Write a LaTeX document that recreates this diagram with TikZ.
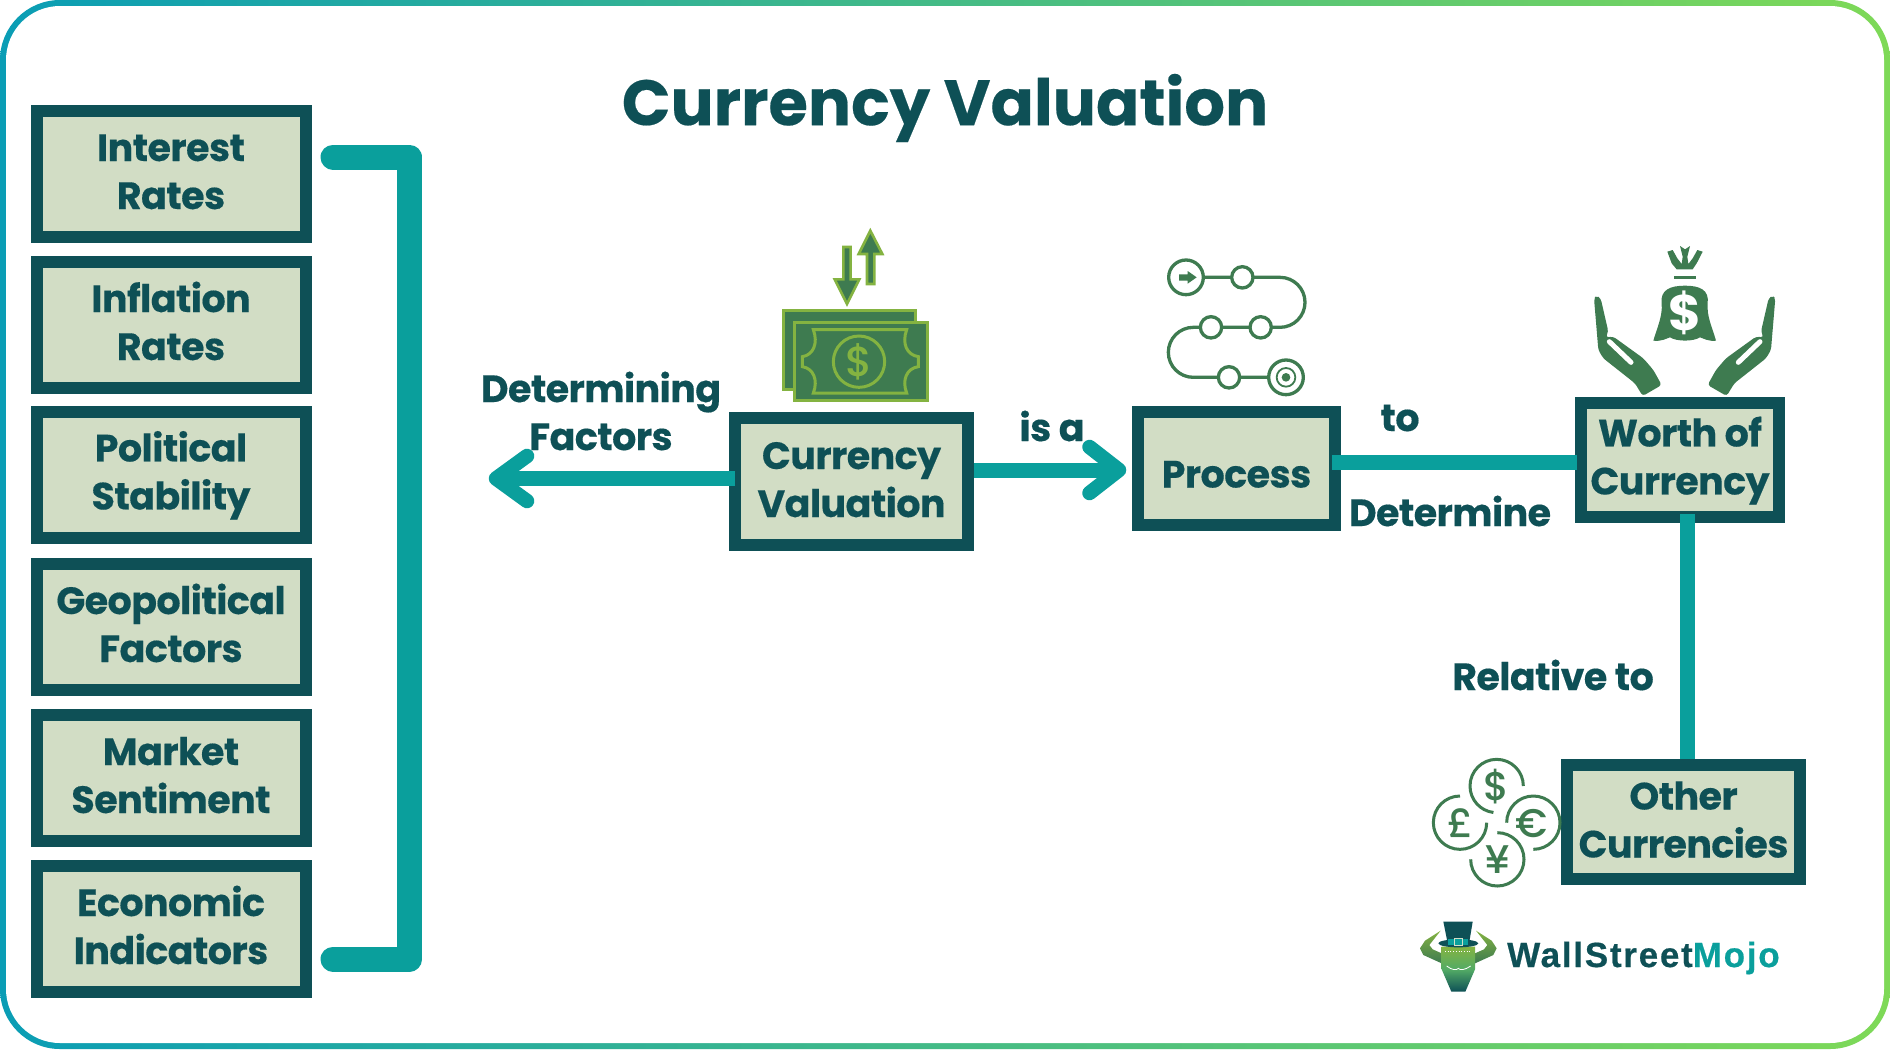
\documentclass[tikz,border=0pt]{standalone}
\usepackage{fontspec}
\usetikzlibrary{arrows.meta}
\newfontfamily\pop{Poppins}[BoldFont={Poppins Bold}]
\newfontfamily\popm{Poppins Medium}
\newfontfamily\poplab{Poppins Bold}[LetterSpace=-1.5,FakeBold=0.35]
\newfontfamily\poptitle{Poppins Bold}[FakeBold=0.3]
\newfontfamily\logofont{Liberation Sans Bold}[LetterSpace=5.0,FakeBold=0.5]
\definecolor{dark}{HTML}{0E5056}
\definecolor{boxfill}{HTML}{D2DDC5}
\definecolor{teal}{HTML}{0A9F9C}
\definecolor{icon}{HTML}{3E7B50}
\definecolor{lime}{HTML}{84B341}
\definecolor{gA}{HTML}{0A9DB5}
\definecolor{gB}{HTML}{22AE8C}
\definecolor{gC}{HTML}{7ED957}
\newcommand{\st}{\rule{0pt}{31pt}\rule[-8pt]{0pt}{8pt}}
\tikzset{
  box/.style={draw=dark,fill=boxfill,line width=12pt,rectangle,inner sep=0pt,align=center,
     font=\poplab\fontsize{38}{48}\selectfont,text=dark},
  lab/.style={inner sep=0pt,align=center,font=\poplab\fontsize{38}{48}\selectfont,text=dark},
  conn/.style={draw=teal,line width=15pt},
  barb/.style={draw=teal,line width=14.5pt,line cap=round,line join=round},
  bracket/.style={draw=teal,line width=25pt,line cap=round,line join=round},
  zoomA/.style={shift={(#1)},x=0.33333pt,y=-0.33333pt},
  zoomB/.style={shift={(#1)},x=-0.33333pt,y=-0.33333pt},
  coinarc/.style={draw=icon,line width=3pt},
  glyph/.style={inner sep=0pt,text=icon,font=\popm\fontsize{40}{40}\selectfont},
}
\newcommand{\handshape}{%
  \fill[icon,rounded corners=3pt] (72,205)--(80,197)--(92,205)--(115,305)--(107,322)--(130,320)--(220,385)--(250,420)--(275,465)--(218,498)--(195,460)--(100,385)--(85,360)--cycle;
  \draw[white,line width=5pt,line cap=round] (118,335)--(183,397);
}
\begin{document}
\begin{tikzpicture}[x=1pt,y=-1pt]
\useasboundingbox (0,0) rectangle (1890,1050);
\fill[white] (0,0) rectangle (1890,1050);
% frame
\shade[left color=gA,middle color=gB,right color=gC,rounded corners=60pt] (0,0) rectangle (1890,1049);
\fill[white,rounded corners=54pt] (6,6) rectangle (1884,1043);
% title
\node[inner sep=0pt,font=\poptitle\fontsize{64}{70}\selectfont,text=dark] (title) at (945,108) {Currency Valuation};
% left boxes
\node[box,minimum width=269pt,minimum height=126pt] (b1) at (171,173.5) {\st Interest\\\st Rates};
\node[box,minimum width=269pt,minimum height=126pt] (b2) at (171,324.5) {\st Inflation\\\st Rates};
\node[box,minimum width=269pt,minimum height=126pt] (b3) at (171,475) {\st Political\\\st Stability};
\node[box,minimum width=269pt,minimum height=126pt] (b4) at (171,626.5) {\st Geopolitical\\\st Factors};
\node[box,minimum width=269pt,minimum height=126pt] (b5) at (171,777.5) {\st Market\\\st Sentiment};
\node[box,minimum width=269pt,minimum height=126pt] (b6) at (171,928.5) {\st Economic\\\st Indicators};
% bracket
\coordinate (brA) at (333,157);
\coordinate (brB) at (409.5,157);
\coordinate (brC) at (409.5,959);
\coordinate (brD) at (333,959);
\draw[bracket] (brA) -- (brB) -- (brC) -- (brD);
% main boxes
\node[box,minimum width=233pt,minimum height=127pt] (cv) at (851.5,481.5) {\st Currency\\\st Valuation};
\node[box,minimum width=197pt,minimum height=113pt] (proc) at (1236.5,468.5) {\rule{0pt}{46pt}\rule[-8pt]{0pt}{8pt}Process};
\node[box,minimum width=198pt,minimum height=114pt] (worth) at (1680,460) {\st Worth of\\\st Currency};
\node[box,minimum width=233pt,minimum height=114pt] (other) at (1683.5,822) {\st Other\\\st Currencies};
% connectors
\coordinate (leftEnd) at (496,478.5);
\coordinate (rightEnd) at (1119,470);
\draw[conn] ([xshift=6pt]cv.west |- leftEnd) -- (leftEnd);
\draw[barb] ([shift={(31,-22.5)}]leftEnd) -- (leftEnd) -- ([shift={(31,22.5)}]leftEnd);
\draw[conn] (cv.east |- rightEnd) -- (rightEnd);
\draw[barb] ([shift={(-29.5,-23)}]rightEnd) -- (rightEnd) -- ([shift={(-29.5,23)}]rightEnd);
\draw[conn] ([shift={(-9,2.5)}]proc.east |- worth) -- ([shift={(1.7,2.5)}]worth.west);
\draw[conn] ([shift={(7.5,-9)}]worth.south) -- ([xshift=7.5pt]worth.south |- other.north);
% labels
\node[lab] (l1) at (601,411) {Determining\\Factors};
\node[lab] (l2) at (1052,426) {is a};
\node[lab] (l3) at (1400,418) {to};
\node[lab] (l4) at (1450,511) {Determine};
\node[lab] (l5) at (1553,675) {Relative to};
% money icon
\begin{scope}[zoomA={760,210}]
  \path[fill=icon,draw=lime,line width=3pt,line join=miter]
     (71,301) rectangle (466,538);
  \path[fill=icon,draw=lime,line width=3pt] (104,337) rectangle (501,571);
  \draw[lime,line width=3pt] (160,359) -- (440,359)
     .. controls (425,400) and (440,435) .. (475,440) -- (475,470)
     .. controls (440,475) and (425,510) .. (440,549) -- (160,549)
     .. controls (175,510) and (160,475) .. (127,470) -- (127,440)
     .. controls (160,435) and (175,400) .. (160,359) -- cycle;
  \draw[lime,line width=3pt] (297,455) circle[radius=77];
  \node[inner sep=0pt,text=lime,font=\popm\fontsize{42}{42}\selectfont] (moneyS) at (297,457) {\$};
  \path[fill=icon,draw=lime,line width=2.6pt,line join=miter]
     (250,111)--(272,111)--(272,208)--(298,208)--(261,282)--(224,208)--(250,208)--cycle;
  \path[fill=icon,draw=lime,line width=2.6pt,line join=miter]
     (321,222)--(343,222)--(343,132)--(367,132)--(331,62)--(296,132)--(321,132)--cycle;
\end{scope}
% process icon
\begin{scope}[zoomA={1140,240}]
  \draw[icon,line width=3.3pt] (138,112) -- (420,112) arc[start angle=-90,end angle=90,radius=75]
     -- (160,262) arc[start angle=-90,end angle=-270,radius=75] -- (438,412);
  \foreach \p/\q in {307/112,362/262,213/262,267/412}
     \draw[icon,line width=3.3pt,fill=white] (\p,\q) circle[radius=32];
  \draw[icon,line width=3.3pt,fill=white] (138,112) circle[radius=52];
  \draw[icon,line width=3.3pt,fill=white] (438,412) circle[radius=52];
  \draw[icon,line width=1.8pt] (438,412) circle[radius=28];
  \fill[icon] (438,412) circle[radius=13];
  \fill[icon] (117,103)--(143,103)--(143,93)--(170,112)--(143,131)--(143,122)--(117,122)--cycle;
\end{scope}
% bag icon
\begin{scope}[zoomA={1570,230}]
  \fill[icon] (292,65)--(308,60)--(322,85)--(335,102)--(338,80)--(330,48)--(345,58)--(360,48)--(352,80)--(355,102)--(368,85)--(382,60)--(398,65)--(380,100)--(368,118)--(320,118)--(305,100)--cycle;
  \fill[icon] (312,137) rectangle (377,148);
  \fill[icon] (345,167) .. controls (300,167) and (270,180) .. (275,220)
     .. controls (278,260) and (262,290) .. (250,332)
     .. controls (275,335) and (290,325) .. (300,322)
     .. controls (320,335) and (370,335) .. (390,322)
     .. controls (400,325) and (415,335) .. (438,332)
     .. controls (426,290) and (410,260) .. (413,220)
     .. controls (418,180) and (390,167) .. (345,167) -- cycle;
  \node[inner sep=0pt,text=white,font=\pop\bfseries\fontsize{50}{50}\selectfont] (bagS) at (344,250) {\$};
  \handshape
\end{scope}
\begin{scope}[zoomB={1799.3,230}]
  \handshape
\end{scope}
% coins
\begin{scope}[zoomA={1410,740}]
  \draw[coinarc] (340,138) arc[start angle=0,end angle=-263,radius=80];
  \draw[coinarc] (150,168) arc[start angle=-90,end angle=-360,radius=80];
  \draw[coinarc] (290,248) arc[start angle=180,end angle=450,radius=80];
  \draw[coinarc] (262,278) arc[start angle=-90,end angle=180,radius=80];
  \node[glyph] (cD) at (260,140) {\$};
  \node[glyph] (cP) at (152,250) {£};
  \node[glyph] (cE) at (364,250) {€};
  \node[glyph] (cY) at (262,358) {¥};
\end{scope}
% logo
\begin{scope}[zoomA={1400,900}]
  \shade[top color=lime,bottom color=icon] (122,92)--(75,122)--(60,145)--(70,165)--(125,190)--(125,160)--(98,148)--(88,135)--cycle;
  \shade[top color=lime,bottom color=icon] (228,92)--(275,122)--(290,145)--(280,165)--(225,190)--(225,160)--(252,148)--(262,135)--cycle;
  \shade[top color=lime,bottom color=dark,middle color=lime!60!teal] (125,140)--(225,140)--(225,208)--(196,275)--(154,275)--(125,208)--cycle;
  \draw[white,line width=0.8pt] (140,198) .. controls (155,210) and (170,212) .. (175,205) .. controls (180,212) and (195,210) .. (212,198);
  \draw[white,line width=0.7pt,dotted] (135,155) -- (215,155);
  \fill[dark] (130,65)--(218,65)--(208,125)--(142,125)--cycle;
  \fill[dark] (175,130) ellipse[x radius=60,y radius=12];
  \fill[teal] (145,118) rectangle (205,134);
  \draw[boxfill,line width=1pt] (163,116) rectangle (187,136);
\end{scope}
\node[inner sep=0pt,anchor=base west,font=\logofont\fontsize{35}{35}\selectfont] (logo) at (1507,967) {\textcolor{dark}{WallStreet}\textcolor{teal}{Mojo}};
\end{tikzpicture}
\end{document}
